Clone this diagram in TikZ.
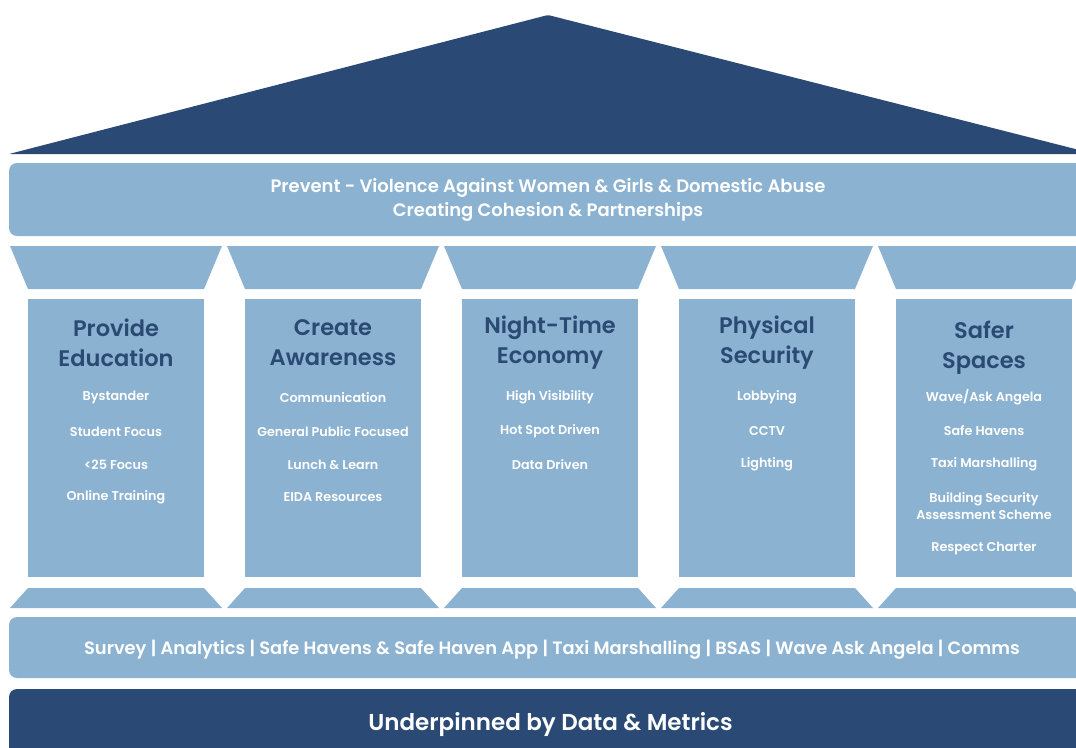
\documentclass[tikz,border=0pt]{standalone}
\usepackage{fontspec}
\setmainfont{Poppins}[BoldFont={Poppins SemiBold}]
\definecolor{navy}{HTML}{2A4A75}
\definecolor{lightb}{HTML}{8CB2D2}
\definecolor{titlec}{HTML}{2B4A73}
\begin{document}
\begin{tikzpicture}[x=1pt,y=-1pt,
  bannertxt/.style={text=white,font=\fontsize{18}{24}\selectfont\bfseries,align=center,inner sep=0pt},
  ptitle/.style={text=titlec,font=\fontsize{22.5}{30}\selectfont\bfseries,align=center,inner sep=0pt},
  pitem/.style={text=white,font=\fontsize{12.75}{17}\selectfont\bfseries,align=center,inner sep=0pt},
  foundtxt/.style={text=white,font=\fontsize{17.85}{22}\selectfont\bfseries,inner sep=0pt},
  basetxt/.style={text=white,font=\fontsize{23}{26}\selectfont\bfseries,inner sep=0pt}]
\useasboundingbox (0,0) rectangle (1076,747);
\clip (0,0) rectangle (1076,747);
% roof
\fill[navy, rounded corners=2] (9,154) -- (548,15) -- (1095,154) -- cycle;
% banner
\fill[lightb, rounded corners=8] (9,163) rectangle (1110,236);
% pillars
\foreach \c in {116,333,550,767,984}{
  \fill[lightb] (\c-106,246) -- (\c+106,246) -- (\c+88,289) -- (\c-88,289) -- cycle;
  \fill[lightb] (\c-88,299) rectangle (\c+88,577);
  \fill[lightb] (\c-88,588) -- (\c+88,588) -- (\c+106,608) -- (\c-106,608) -- cycle;
}
% foundation bars
\fill[lightb, rounded corners=8] (9,617) rectangle (1110,678);
\fill[navy, rounded corners=8] (9,689) rectangle (1110,770);
% banner text
\node[bannertxt] (b1) at (548,188) {Prevent - Violence Against Women \& Girls \& Domestic Abuse};
\node[bannertxt] (b2) at (548,212) {Creating Cohesion \& Partnerships};
% titles
\node[ptitle] (t1) at (116,343) {Provide\\Education};
\node[ptitle] (t2) at (333,343) {Create\\Awareness};
\node[ptitle] (t3) at (550,343) {Night-Time\\Economy};
\node[ptitle] (t4) at (767,343) {Physical\\Security};
\node[ptitle] (t5) at (984,348) {Safer\\Spaces};
% items
\node[pitem] (i11) at (116,397.5) {Bystander};
\node[pitem] (i12) at (116,431.5) {Student Focus};
\node[pitem] (i13) at (116,464.5) {<25 Focus};
\node[pitem] (i14) at (116,497.5) {Online Training};
\node[pitem] (i21) at (333,397.5) {Communication};
\node[pitem] (i22) at (333,431.5) {General Public Focused};
\node[pitem] (i23) at (333,464.5) {Lunch \& Learn};
\node[pitem] (i24) at (333,497.5) {EIDA Resources};
\node[pitem] (i31) at (550,397.5) {High Visibility};
\node[pitem] (i32) at (550,431.5) {Hot Spot Driven};
\node[pitem] (i33) at (550,464.5) {Data Driven};
\node[pitem] (i41) at (767,397.5) {Lobbying};
\node[pitem] (i42) at (767,431.5) {CCTV};
\node[pitem] (i43) at (767,464.5) {Lighting};
\node[pitem] (i51) at (984,397.5) {Wave/Ask Angela};
\node[pitem] (i52) at (984,430.5) {Safe Havens};
\node[pitem] (i53) at (984,464.5) {Taxi Marshalling};
\node[pitem] (i54) at (984,506) {Building Security\\Assessment Scheme};
\node[pitem] (i55) at (984,548.5) {Respect Charter};
% foundation text
\node[foundtxt] (f1) at (552,650) {Survey | Analytics | Safe Havens \& Safe Haven App | Taxi Marshalling | BSAS | Wave Ask Angela | Comms};
\node[basetxt] (u1) at (550.5,724.5) {Underpinned by Data \& Metrics};
\end{tikzpicture}
\end{document}
